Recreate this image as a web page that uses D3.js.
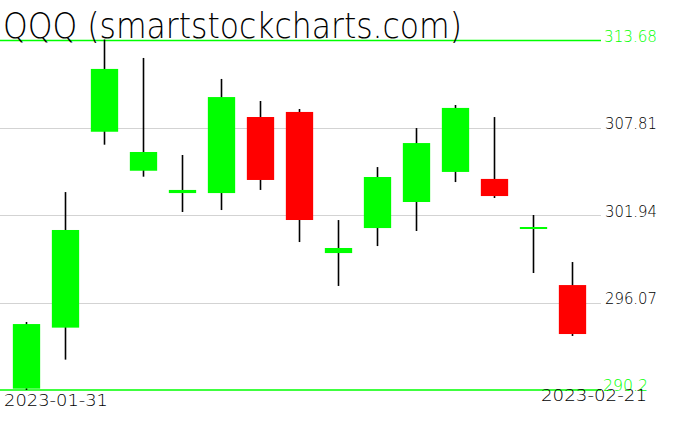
<!DOCTYPE html>
<html>
<head>
<meta charset="utf-8">
<script src="https://cdn.jsdelivr.net/npm/d3@7"></script>
<style>
html,body{margin:0;padding:0;background:#fff;}
svg{display:block;}
</style>
</head>
<body>
<svg id="chart" width="676" height="431"></svg>
<script>
const dates = ["2023-01-31","2023-02-01","2023-02-02","2023-02-03","2023-02-06","2023-02-07","2023-02-08","2023-02-09","2023-02-10","2023-02-13","2023-02-14","2023-02-15","2023-02-16","2023-02-17","2023-02-21"];
const opens  = [290.29,294.39,307.55,304.93,303.43,303.43,308.54,308.88,299.40,301.08,302.83,304.85,304.38,301.02,297.25];
const highs  = [294.70,303.43,313.68,312.44,305.92,311.03,309.55,309.01,301.55,305.11,307.73,309.28,308.47,301.89,298.73];
const lows   = [290.20,292.24,306.68,304.53,302.16,302.29,303.64,300.14,297.19,299.87,300.88,304.17,303.10,298.06,293.83];
const closes = [294.63,300.95,311.77,306.19,303.64,309.88,304.31,301.62,299.74,304.51,306.79,309.15,303.23,301.15,293.96];
const gridTicks = [296.07,301.94,307.81];
const edgeTicks = [313.68,290.2];
const title = "QQQ (smartstockcharts.com)";

const svg = d3.select("#chart");
const y = d3.scaleLinear().domain([290.2,313.68]).range([390,40.5]);
const x = d3.scaleBand().domain(dates).range([7,592]).paddingInner(0.3).paddingOuter(0.15);
const font = "'DejaVu Sans', sans-serif";

// gridlines
svg.selectAll("line.grid").data(gridTicks).enter().append("line")
  .attr("x1",0).attr("x2",601).attr("y1",d=>Math.round(y(d))+0.5).attr("y2",d=>Math.round(y(d))+0.5)
  .attr("stroke","#d3d3d3").attr("stroke-width",1);
svg.selectAll("text.grid").data(gridTicks).enter().append("text")
  .attr("x",605).attr("y",d=>y(d)+1.5).text(d=>d.toFixed(2))
  .attr("font-family",font).attr("font-size",16).attr("font-weight",200).attr("fill","#000")
  .attr("textLength",52).attr("lengthAdjust","spacingAndGlyphs");

// edge lines
svg.selectAll("line.edge").data(edgeTicks).enter().append("line")
  .attr("x1",0).attr("x2",601).attr("y1",d=>y(d)).attr("y2",d=>y(d))
  .attr("stroke","#00ff00").attr("stroke-width",1.5);

// candles
const idx = d3.range(dates.length);
svg.selectAll("line.wick").data(idx).enter().append("line")
  .attr("x1",i=>x(dates[i])+x.bandwidth()/2).attr("x2",i=>x(dates[i])+x.bandwidth()/2)
  .attr("y1",i=>y(highs[i])-1).attr("y2",i=>y(lows[i]))
  .attr("stroke","#000").attr("stroke-width",1.6);
svg.selectAll("rect.body").data(idx).enter().append("rect")
  .attr("x",i=>x(dates[i])).attr("width",x.bandwidth())
  .attr("y",i=>y(Math.max(opens[i],closes[i])))
  .attr("height",i=>Math.max(2,Math.abs(y(opens[i])-y(closes[i]))))
  .attr("fill",i=>closes[i]>=opens[i]?"#00ff00":"#ff0000");

// edge labels
svg.append("text").attr("x",604).attr("y",y(313.68)+1).text(edgeTicks[0].toFixed(2))
  .attr("font-family",font).attr("font-size",16).attr("font-weight",200).attr("fill","#00ff00")
  .attr("textLength",53).attr("lengthAdjust","spacingAndGlyphs");
svg.append("text").attr("x",603).attr("y",y(290.2)+0.5).text(String(edgeTicks[1]))
  .attr("font-family",font).attr("font-size",16).attr("font-weight",200).attr("fill","#00ff00")
  .attr("textLength",45).attr("lengthAdjust","spacingAndGlyphs");

// date labels
svg.append("text").attr("x",4).attr("y",406).text(dates[0])
  .attr("font-family",font).attr("font-size",16).attr("font-weight",200).attr("fill","#000")
  .attr("textLength",104).attr("lengthAdjust","spacingAndGlyphs");
svg.append("text").attr("x",541).attr("y",401).text(dates[dates.length-1])
  .attr("font-family",font).attr("font-size",16).attr("font-weight",200).attr("fill","#000")
  .attr("textLength",106).attr("lengthAdjust","spacingAndGlyphs");

// title
svg.append("text").attr("x",3).attr("y",38).text(title)
  .attr("font-family",font).attr("font-size",35).attr("font-weight",200).attr("fill","#000")
  .attr("textLength",459).attr("lengthAdjust","spacingAndGlyphs");
</script>
</body>
</html>
